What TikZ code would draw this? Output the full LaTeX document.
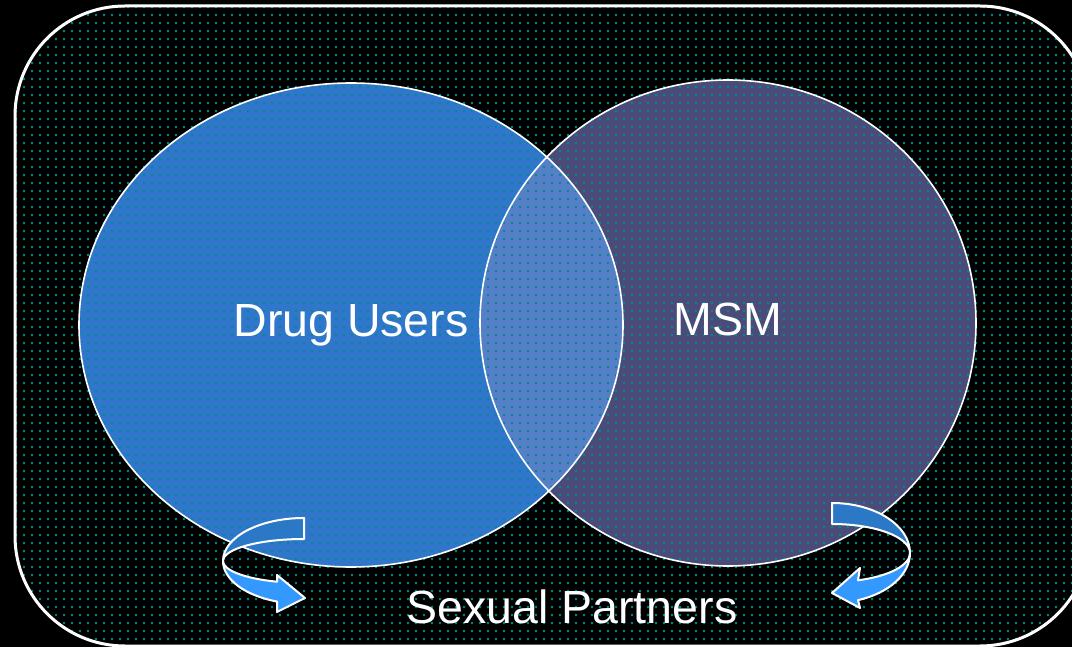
\documentclass[tikz,border=0pt]{standalone}
\usepackage{fontspec}
\setmainfont{Liberation Sans}
\usetikzlibrary{patterns.meta}
\definecolor{dotteal}{HTML}{008B8B}
\definecolor{leftblue}{HTML}{3077CC}
\definecolor{rightgray}{HTML}{4A4B78}
\definecolor{lensblue}{HTML}{5580C8}
\definecolor{arrowdark}{HTML}{2A78C6}
\definecolor{arrowlight}{HTML}{3399FF}
\tikzset{
  frame/.style={rounded corners=110pt},
  setline/.style={draw=white, line width=1.6pt},
  label/.style={text=white, font=\fontsize{46.5}{56}\selectfont, inner sep=0pt, anchor=base},
  ribbon/.style={draw=white, line width=2pt, line join=round},
}
\begin{document}
\begin{tikzpicture}[x=1pt,y=-1pt]
\useasboundingbox (0,0) rectangle (1072,647);
\fill[black] (0,0) rectangle (1072,647);
\begin{scope}
\clip (0,0) rectangle (1072,647);
% set fills
\fill[rightgray] (728,323) ellipse[x radius=248, y radius=243];
\fill[leftblue] (351,325) ellipse[x radius=272, y radius=242];
\begin{scope}
  \clip (351,325) ellipse[x radius=272, y radius=242];
  \fill[lensblue] (728,323) ellipse[x radius=248, y radius=243];
\end{scope}
% dotted texture
\fill[frame, pattern={Dots[distance=8pt, radius=1.3pt]}, pattern color=dotteal] (15,6) rectangle (1090,646);
% outlines
\draw[setline] (351,325) ellipse[x radius=272, y radius=242];
\draw[setline] (728,323) ellipse[x radius=248, y radius=243];
\draw[frame, draw=white, line width=3pt] (15,6) rectangle (1090,646);
% texts
\node[label] (du) at (351,337) {Drug Users};
\node[label] (msm) at (728,336) {MSM};
\node[label] (sp) at (572,623) {Sexual Partners};
% left curved arrow
\fill[arrowdark, ribbon] (304,518) arc[start angle=-90, end angle=-180, x radius=81, y radius=43]
   arc[start angle=180, end angle=270, x radius=81, y radius=22] -- cycle;
\fill[arrowlight, ribbon] (223,561) arc[start angle=180, end angle=109.47, x radius=81, y radius=43]
   -- (277,612) -- (305,598) -- (277,575) -- (277,581.7)
   arc[start angle=109.47, end angle=180, x radius=81, y radius=22] -- cycle;
% right curved arrow
\fill[arrowdark, ribbon] (832,503) arc[start angle=-90, end angle=0, x radius=78, y radius=50]
   arc[start angle=0, end angle=-90, x radius=78, y radius=29] -- cycle;
\fill[arrowlight, ribbon] (910,553) arc[start angle=0, end angle=70.53, x radius=78, y radius=50]
   -- (860,608) -- (832,593) -- (860,568) -- (858,580.3)
   arc[start angle=70.53, end angle=0, x radius=78, y radius=29] -- cycle;
\end{scope}
\end{tikzpicture}
\end{document}
